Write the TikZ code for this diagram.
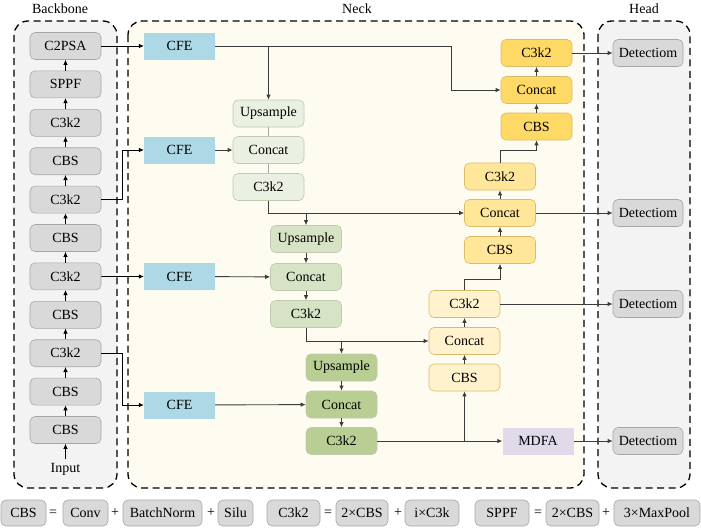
\documentclass[tikz,border=0pt]{standalone}
\usepackage{fontspec}
\setmainfont{Liberation Serif}
\usepackage{tikz}
\usetikzlibrary{arrows.meta,calc}
\definecolor{ybpanel} {HTML}{F3F3F3}
\definecolor{ybcream} {HTML}{FEFCF0}
\definecolor{ybgrey}  {HTML}{D9D9D9}
\definecolor{ybedge}  {HTML}{A6A6A6}
\definecolor{ybblue}  {HTML}{ADD8E6}
\definecolor{ybgreenA}{HTML}{EAF0E2}
\definecolor{ybgreenB}{HTML}{D6E3C4}
\definecolor{ybgreenC}{HTML}{B8CE93}
\definecolor{ybgedge} {HTML}{BFCAB0}
\definecolor{ybyelA}  {HTML}{FFD966}
\definecolor{ybyelB}  {HTML}{FFE699}
\definecolor{ybyelC}  {HTML}{FFF2CC}
\definecolor{ybyedge} {HTML}{D9BC6A}
\definecolor{ybmdfa}  {HTML}{E0DAEA}
\definecolor{ybline}  {HTML}{3C3C3C}

\begin{document}
\begin{tikzpicture}[x=1pt, y=-1pt,
    font=\fontsize{14}{16}\selectfont,
    blk/.style={rounded corners=5pt, minimum width=71pt, minimum height=27pt,
      inner sep=1pt, line width=0.6pt},
    bbox/.style={blk, draw=ybedge, fill=ybgrey},
    gbox/.style={blk, draw=ybgedge},
    ybox/.style={blk, draw=ybyedge},
    flat/.style={minimum width=71pt, minimum height=27pt, inner sep=1pt},
    lgbox/.style={draw=ybedge, fill=ybgrey, rounded corners=5pt,
      minimum height=26pt, inner sep=1pt, line width=0.6pt},
    panel/.style={dashed, dash pattern=on 7pt off 4.5pt, line width=1.3pt,
      rounded corners=14pt},
    up/.style={-{Latex[length=5pt,width=4.5pt]}, line width=0.7pt},
    nlink/.style={-{Latex[length=5pt,width=4.5pt]}, draw=ybline, line width=0.9pt},
    thin/.style={draw=ybedge, line width=0.6pt}]
  \useasboundingbox (0,0) rectangle (701,530);

  % panels
  \draw[panel, fill=ybpanel] (14,21) rectangle (117,488);
  \draw[panel, fill=ybcream] (128,21) rectangle (584,488);
  \draw[panel, fill=ybpanel] (598,21) rectangle (690,488);
  \node (tbb) at (60,9) {Backbone};
  \node (tnk) at (357,9) {Neck};
  \node (thd) at (644,9) {Head};

  % backbone
  \foreach \lab [count=\i] in {C2PSA,SPPF,C3k2,CBS,C3k2,CBS,C3k2,CBS,C3k2,CBS,CBS}
    \node[bbox] (bb\i) at (65.5,{46+38.4*(\i-1)}) {\lab};
  \node (inp) at (65.5,469) {Input};
  \draw[up] (inp) -- (bb11);
  \foreach \i [evaluate=\i as \j using int(\i-1)] in {2,...,11}
    \draw[up] (bb\i) -- (bb\j);

  % CFE
  \node[flat, fill=ybblue] (cfe1) at (179.5,46) {CFE};
  \node[flat, fill=ybblue] (cfe2) at (179.5,150) {CFE};
  \node[flat, fill=ybblue] (cfe3) at (179.5,276.5) {CFE};
  \node[flat, fill=ybblue] (cfe4) at (179.5,405) {CFE};
  \draw[up] (bb1) -- (cfe1);
  \draw[up] (bb5.east) -- ++(21.5,0) |- (cfe2.west);
  \draw[up] (bb7.east) -- (cfe3.west);
  \draw[up] (bb9.east) -- ++(21.5,0) |- (cfe4.west);

  % neck, top-down path
  \node[gbox, fill=ybgreenA] (up1)  at (268.5,113.5) {Upsample};
  \node[gbox, fill=ybgreenA] (cat1) at (268.5,150)   {Concat};
  \node[gbox, fill=ybgreenA] (c3a)  at (268.5,187)   {C3k2};
  \node[gbox, fill=ybgreenB] (up2)  at (306,239)     {Upsample};
  \node[gbox, fill=ybgreenB] (cat2) at (306,277)     {Concat};
  \node[gbox, fill=ybgreenB] (c3b)  at (306,314)     {C3k2};
  \node[gbox, fill=ybgreenC] (up3)  at (341.5,367.5) {Upsample};
  \node[gbox, fill=ybgreenC] (cat3) at (341.5,404.5) {Concat};
  \node[gbox, fill=ybgreenC] (c3c)  at (341.5,441)   {C3k2};
  \node[flat, fill=ybmdfa]   (mdfa) at (538,441)     {MDFA};

  % neck, bottom-up path
  \node[ybox, fill=ybyelC] (c3d)  at (464.5,304)   {C3k2};
  \node[ybox, fill=ybyelC] (cat4) at (464.5,341)   {Concat};
  \node[ybox, fill=ybyelC] (cbs4) at (464.5,377.5) {CBS};
  \node[ybox, fill=ybyelB] (c3e)  at (500,176.5)   {C3k2};
  \node[ybox, fill=ybyelB] (cat5) at (500,213)     {Concat};
  \node[ybox, fill=ybyelB] (cbs5) at (500,250)     {CBS};
  \node[ybox, fill=ybyelA] (c3f)  at (536.5,53)    {C3k2};
  \node[ybox, fill=ybyelA] (cat6) at (536.5,90)    {Concat};
  \node[ybox, fill=ybyelA] (cbs6) at (536.5,126.5) {CBS};

  % head
  \foreach \n/\y in {1/53,2/213,3/304,4/441}
    \node[bbox, minimum width=70pt] (det\n) at (648,\y) {Detectiom};

  % links
  \coordinate (k1) at (451,46);
  \draw[nlink] (cfe1.east) -- (k1) |- (cat6.west);
  \draw[nlink] (up1.north |- cfe1) -- (up1.north);
  \draw[nlink] (cfe2) -- (cat1);
  \draw[thin] (up1) -- (cat1) (cat1) -- (c3a);
  \draw[nlink] (c3a.south) |- (cat5.west);
  \draw[nlink] (up2.north |- cat5) -- (up2.north);
  \draw[nlink] (up2) -- (cat2);
  \draw[nlink] (cat2) -- (c3b);
  \draw[nlink] (cfe3) -- (cat2);
  \draw[nlink] (c3b.south) |- (cat4.west);
  \draw[nlink] (up3.north |- cat4) -- (up3.north);
  \draw[nlink] (up3) -- (cat3);
  \draw[nlink] (cat3) -- (c3c);
  \draw[nlink] (cfe4) -- (cat3);
  \draw[nlink] (c3c) -- (mdfa);
  \draw[nlink] (cbs4.south |- c3c) -- (cbs4.south);
  \draw[nlink] (cbs4) -- (cat4);
  \draw[nlink] (cat4) -- (c3d);
  \draw[nlink] (c3d.north) -- ++(0,-11) -| (cbs5.south);
  \draw[nlink] (cbs5) -- (cat5);
  \draw[nlink] (cat5) -- (c3e);
  \draw[nlink] (c3e.north) -- ++(0,-12) -| (cbs6.south);
  \draw[nlink] (cbs6) -- (cat6);
  \draw[nlink] (cat6) -- (c3f);
  \draw[nlink] (c3f) -- (det1);
  \draw[nlink] (cat5) -- (det2);
  \draw[nlink] (c3d) -- (det3);
  \draw[nlink] (mdfa) -- (det4);

  % legend
  \node[lgbox, minimum width=45pt] (lcbs)  at (23.5,513)  {CBS};
  \node (le1) at (53,513) {=};
  \node[lgbox, minimum width=45pt] (lconv) at (85.5,513)  {Conv};
  \node (lp1) at (115,513) {+};
  \node[lgbox, minimum width=79pt] (lbn)   at (162.5,513) {BatchNorm};
  \node (lp2) at (211,513) {+};
  \node[lgbox, minimum width=35pt] (lsilu) at (235.5,513) {Silu};
  \node[lgbox, minimum width=53pt] (lc3k2) at (293.5,513) {C3k2};
  \node (le2) at (328,513) {=};
  \node[lgbox, minimum width=52pt] (l2cbs) at (362,513)   {2×CBS};
  \node (lp3) at (398,513) {+};
  \node[lgbox, minimum width=54pt] (lic3k) at (432,513)   {i×C3k};
  \node[lgbox, minimum width=54pt] (lsppf) at (502,513)   {SPPF};
  \node (le3) at (538,513) {=};
  \node[lgbox, minimum width=53pt] (l2cbsb) at (572.5,513) {2×CBS};
  \node (lp4) at (606,513) {+};
  \node[lgbox, minimum width=86pt] (lmaxp) at (657,513)   {3×MaxPool};
\end{tikzpicture}
\end{document}
